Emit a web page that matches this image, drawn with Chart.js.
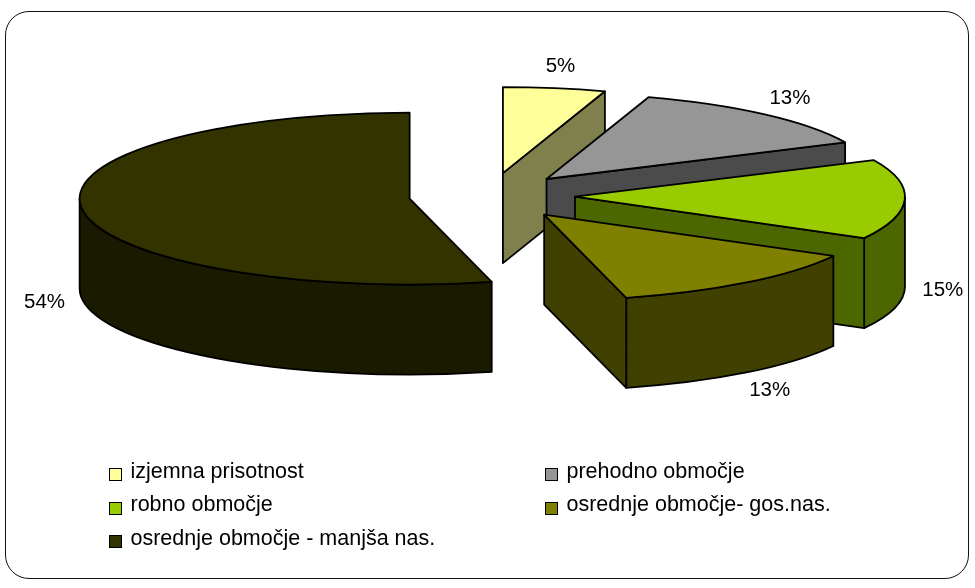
<!DOCTYPE html>
<html>
<head>
<meta charset="utf-8">
<script src="https://cdn.jsdelivr.net/npm/chart.js@4/dist/chart.umd.min.js"></script>
<style>
html,body{margin:0;padding:0;background:#fff;}
#wrap{position:relative;width:975px;height:588px;overflow:hidden;}
#frame{position:absolute;left:5px;top:11px;width:964px;height:568px;border:1.6px solid #111;border-radius:24px;box-sizing:border-box;}
#c{position:absolute;left:0;top:0;}
.mk{position:absolute;width:13px;height:13px;box-sizing:border-box;border:1.5px solid #000;}
.lt{position:absolute;font-family:"Liberation Sans",Arial,sans-serif;font-size:21.5px;line-height:24px;color:#000;white-space:nowrap;}
</style>
</head>
<body>
<div id="wrap">
  <div id="frame"></div>
  <canvas id="c" width="975" height="588"></canvas>
</div>
<script>
// ---- data ----
const categories = ['izjemna prisotnost', 'prehodno območje', 'robno območje', 'osrednje območje- gos.nas.', 'osrednje območje - manjša nas.'];
const shares = [5, 13, 15, 13, 54];
const topColors = ['#FFFF99', '#969696', '#99CC00', '#808000', '#333300'];
const sideColors = ['#80804C', '#4B4B4B', '#4C6600', '#404000', '#1A1A00'];
const explode = [89, 87, 86, 90, 80];

// ---- 3D look ----
const TILT = 86 / 330;
const DEPTH = 90;
const LABEL_FONT = '20.5px "Liberation Sans", Arial, sans-serif';

const pie3d = {
  id: 'pie3d',
  beforeDatasetsDraw(chart) {
    const ctx = chart.ctx;
    const meta = chart.getDatasetMeta(0);
    const total = shares.reduce((a, b) => a + b, 0);
    const labels = [];
    meta.data.forEach((arc, i) => {
      const p = arc.getProps(['x', 'y', 'startAngle', 'endAngle', 'outerRadius'], true);
      const a1 = p.startAngle, a2 = p.endAngle, r = p.outerRadius;
      const h = (a1 + a2) / 2;
      const ax = p.x + Math.cos(h) * explode[i];
      const ay = p.y + Math.sin(h) * explode[i] * TILT;
      const ry = r * TILT;
      ctx.save();
      ctx.lineWidth = 1.8;
      ctx.strokeStyle = '#000';
      ctx.lineJoin = 'round';
      ctx.fillStyle = sideColors[i];
      // outer (front) wall
      [[0, Math.PI], [2 * Math.PI, 3 * Math.PI]].forEach(([f1, f2]) => {
        const w1 = Math.max(a1, f1), w2 = Math.min(a2, f2);
        if (w2 - w1 > 1e-4) {
          ctx.beginPath();
          ctx.ellipse(ax, ay, r, ry, 0, w1, w2, false);
          ctx.lineTo(ax + r * Math.cos(w2), ay + ry * Math.sin(w2) + DEPTH);
          ctx.ellipse(ax, ay + DEPTH, r, ry, 0, w2, w1, true);
          ctx.closePath();
          ctx.fill();
          ctx.stroke();
        }
      });
      // radial faces
      const face = (t) => {
        const px = ax + r * Math.cos(t), py = ay + ry * Math.sin(t);
        ctx.beginPath();
        ctx.moveTo(ax, ay);
        ctx.lineTo(px, py);
        ctx.lineTo(px, py + DEPTH);
        ctx.lineTo(ax, ay + DEPTH);
        ctx.closePath();
        ctx.fill();
        ctx.stroke();
      };
      if (Math.cos(a1) < -1e-6) face(a1);
      if (Math.cos(a2) > 1e-6) face(a2);
      // top face filled by the library's arc element, squashed
      ctx.save();
      ctx.translate(ax, ay);
      ctx.scale(1, TILT);
      ctx.translate(-p.x, -p.y);
      arc.draw(ctx);
      ctx.restore();
      ctx.beginPath();
      ctx.moveTo(ax, ay);
      ctx.ellipse(ax, ay, r, ry, 0, a1, a2, false);
      ctx.closePath();
      ctx.stroke();
      ctx.restore();
      // label position
      let lx = ax + r * Math.cos(h) + Math.cos(h) * 38;
      let ly = ay + ry * Math.sin(h) + Math.sin(h) * 22;
      if (Math.sin(h) > 0) ly += DEPTH;
      labels.push([Math.round(shares[i] / total * 100) + '%', lx, ly]);
    });
    ctx.save();
    ctx.font = LABEL_FONT;
    ctx.fillStyle = '#000';
    ctx.textAlign = 'center';
    ctx.textBaseline = 'middle';
    labels.forEach(([t, x, y]) => ctx.fillText(t, x, y));
    ctx.restore();
    return false;
  }
};

new Chart(document.getElementById('c'), {
  type: 'pie',
  data: {
    labels: categories,
    datasets: [{
      data: shares,
      backgroundColor: topColors,
      borderWidth: 0,
      radius: 330,
      clip: false
    }]
  },
  options: {
    responsive: false,
    animation: false,
    events: [],
    layout: { padding: { left: 3, right: 0, top: 0, bottom: 196 } },
    plugins: { legend: { display: false }, tooltip: { enabled: false } }
  },
  plugins: [pie3d]
});

// ---- legend (HTML) ----
const wrap = document.getElementById('wrap');
const legCols = [109, 545];
const legRowTop = 468, legPitch = 33.5;
categories.forEach((name, i) => {
  const col = i % 2, row = Math.floor(i / 2);
  const mk = document.createElement('div');
  mk.className = 'mk';
  mk.style.left = legCols[col] + 'px';
  mk.style.top = (legRowTop + row * legPitch) + 'px';
  mk.style.background = topColors[i];
  wrap.appendChild(mk);
  const t = document.createElement('div');
  t.className = 'lt';
  t.textContent = name;
  t.style.left = (legCols[col] + 21.5) + 'px';
  t.style.top = (legRowTop + row * legPitch - 9.5) + 'px';
  wrap.appendChild(t);
});
</script>
</body>
</html>
